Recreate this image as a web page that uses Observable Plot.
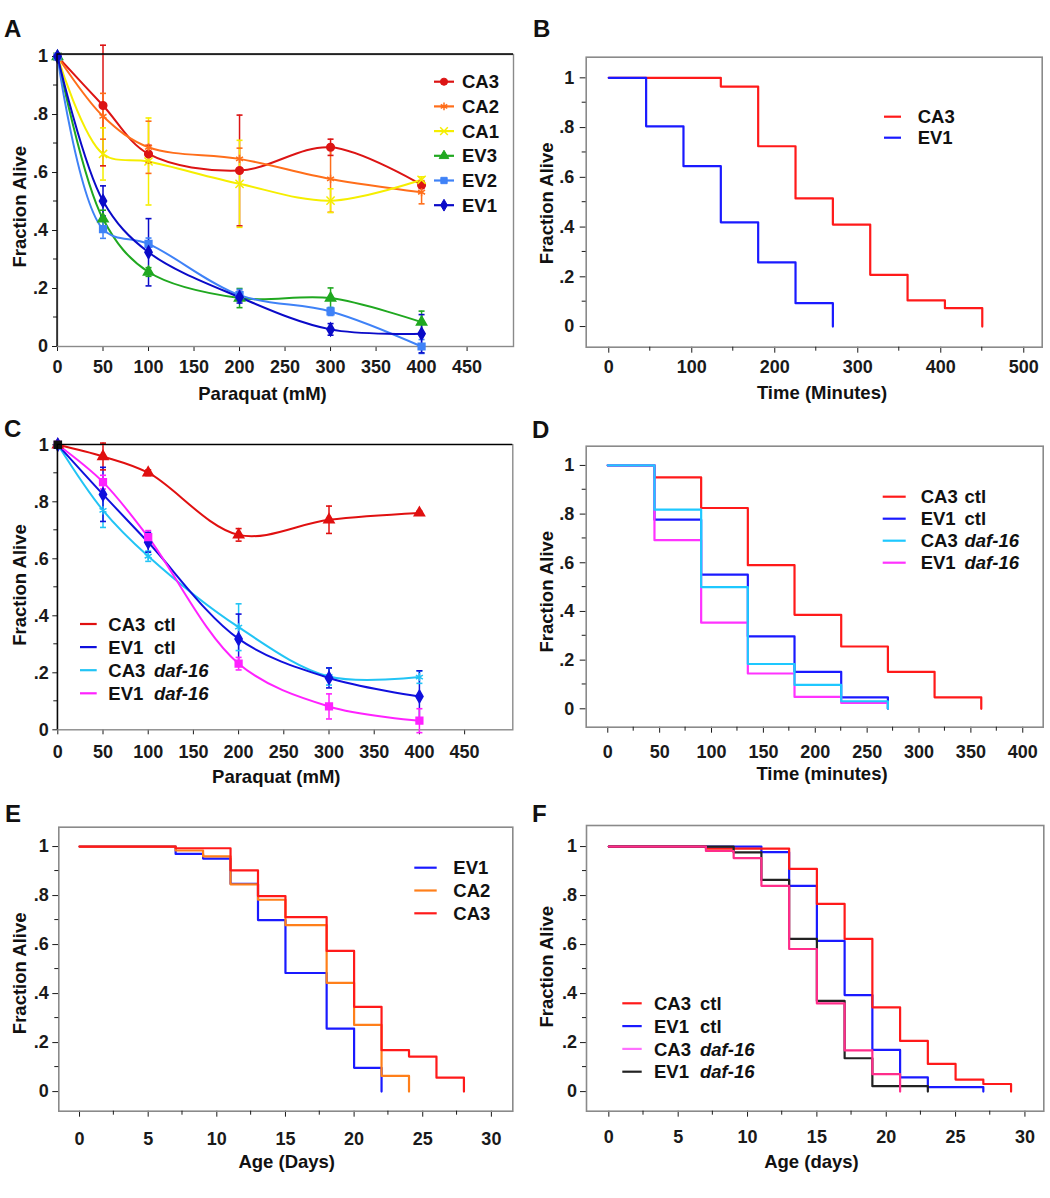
<!DOCTYPE html>
<html><head><meta charset="utf-8">
<script src="https://cdn.jsdelivr.net/npm/d3@7"></script>
<script src="https://cdn.jsdelivr.net/npm/@observablehq/plot@0.6"></script>
<style>
body{margin:0;background:#fff;}
#fig{position:relative;width:1050px;height:1198px;background:#fff;}
.pnl{position:absolute;}
</style></head><body><div id="fig"></div>
<script>
const FONT = '"Liberation Sans", Arial, Helvetica, sans-serif';

// ---------------- Panel A : paraquat dose response ----------------
const doseA = [0, 50, 100, 200, 300, 400];
const namesA = ["CA3", "CA2", "CA1", "EV3", "EV2", "EV1"];
const colorsA = ["#dc1414", "#ff6e1a", "#f5ee00", "#20a820", "#3f82f7", "#0a0ac8"];
const symbolsA = ["circle", "asterisk", "times", "triangle", "square", "diamond"];
const aCA3 = [1, 0.831, 0.664, 0.607, 0.687, 0.557];
const aCA3err = [0, 0.208, 0.03, 0.191, 0.028, 0.012];
const aCA2 = [1, 0.794, 0.687, 0.647, 0.578, 0.532];
const aCA2err = [0, 0.079, 0.09, 0.037, 0.115, 0.04];
const aCA1 = [1, 0.664, 0.638, 0.561, 0.503, 0.575];
const aCA1err = [0, 0.09, 0.15, 0.15, 0.041, 0.01];
const aEV3 = [1, 0.44, 0.257, 0.167, 0.167, 0.084];
const aEV3err = [0, 0.03, 0.015, 0.033, 0.035, 0.038];
const aEV2 = [1, 0.405, 0.354, 0.177, 0.121, 0.0];
const aEV2err = [0, 0.032, 0.02, 0.02, 0.014, 0.024];
const aEV1 = [1, 0.502, 0.325, 0.17, 0.059, 0.044];
const aEV1err = [0, 0.052, 0.116, 0.02, 0.02, 0.066];

// ---------------- Panel B : survival in paraquat (minutes) ----------------
const namesB = ["CA3", "EV1"];
const colorsB = ["#ff1a1a", "#1a1aff"];
const tB_CA3 = [0, 135, 180, 225, 270, 315, 360, 405, 450];
const vB_CA3 = [1, 0.965, 0.725, 0.515, 0.41, 0.208, 0.105, 0.074, 0];
const tB_EV1 = [0, 45, 90, 135, 180, 225, 270];
const vB_EV1 = [1, 0.805, 0.645, 0.419, 0.258, 0.094, 0];

// ---------------- Panel C : paraquat dose response, daf-16 ----------------
const doseC = [0, 50, 100, 200, 300, 400];
const namesC = ["CA3 ctl", "EV1 ctl", "CA3 daf-16", "EV1 daf-16"];
const colorsC = ["#e01010", "#1010dd", "#22c4f5", "#ff22ff"];
const symbolsC = ["triangle", "diamond", "asterisk", "square"];
const cCA3ctl = [1, 0.959, 0.902, 0.684, 0.737, 0.761];
const cCA3ctlErr = [0, 0.047, 0.01, 0.022, 0.048, 0.006];
const cEV1ctl = [1, 0.826, 0.658, 0.319, 0.182, 0.117];
const cEV1ctlErr = [0, 0.095, 0.035, 0.087, 0.035, 0.09];
const cCA3daf = [1, 0.77, 0.609, 0.36, 0.187, 0.185];
const cCA3dafErr = [0, 0.06, 0.018, 0.082, 0.03, 0.022];
const cEV1daf = [1, 0.869, 0.676, 0.232, 0.082, 0.032];
const cEV1dafErr = [0, 0.024, 0.023, 0.022, 0.044, 0.042];

// ---------------- Panel D : survival in paraquat, daf-16 ----------------
const namesD = ["CA3 ctl", "EV1 ctl", "CA3 daf-16", "EV1 daf-16"];
const colorsD = ["#ff1a1a", "#1a1aff", "#1ec8ff", "#ff33ff"];
const tD_CA3ctl = [0, 45, 90, 135, 180, 225, 270, 315, 360];
const vD_CA3ctl = [1, 0.951, 0.825, 0.59, 0.386, 0.256, 0.152, 0.047, 0];
const tD_EV1ctl = [0, 45, 90, 135, 180, 225, 270];
const vD_EV1ctl = [1, 0.777, 0.551, 0.298, 0.152, 0.047, 0];
const tD_CA3daf = [0, 45, 90, 135, 180, 225, 270];
const vD_CA3daf = [1, 0.818, 0.5, 0.184, 0.098, 0.031, 0];
const tD_EV1daf = [0, 45, 90, 135, 180, 225, 270];
const vD_EV1daf = [1, 0.693, 0.354, 0.145, 0.049, 0.024, 0];

// ---------------- Panel E : lifespan ----------------
const namesE = ["EV1", "CA2", "CA3"];
const colorsE = ["#1a1aff", "#ff7f1a", "#ff1a1a"];
const tE_EV1 = [0, 7, 9, 11, 13, 15, 18, 20, 22];
const vE_EV1 = [1, 0.97, 0.951, 0.848, 0.70, 0.484, 0.257, 0.097, 0];
const tE_CA2 = [0, 7, 9, 11, 13, 15, 18, 20, 22, 24];
const vE_CA2 = [1, 0.984, 0.96, 0.846, 0.783, 0.679, 0.444, 0.272, 0.064, 0];
const tE_CA3 = [0, 7, 11, 13, 15, 18, 20, 22, 24, 26, 28];
const vE_CA3 = [1, 0.993, 0.903, 0.798, 0.712, 0.574, 0.346, 0.169, 0.143, 0.057, 0];

// ---------------- Panel F : lifespan, daf-16 ----------------
const namesF = ["CA3 ctl", "EV1 ctl", "CA3 daf-16", "EV1 daf-16"];
const colorsF = ["#ff1a1a", "#1a1aff", "#ff2d8a", "#222222"];
const legendColorsF = ["#ff1a1a", "#1a1aff", "#ff70ff", "#222222"];
const tF_CA3ctl = [0, 7, 13, 15, 17, 19, 21, 23, 25, 27, 29];
const vF_CA3ctl = [1, 0.992, 0.909, 0.766, 0.623, 0.344, 0.207, 0.113, 0.049, 0.031, 0];
const tF_EV1ctl = [0, 11, 13, 15, 17, 19, 21, 23, 27];
const vF_EV1ctl = [1, 0.977, 0.84, 0.615, 0.394, 0.17, 0.058, 0.018, 0];
const tF_CA3daf = [0, 7, 9, 11, 13, 15, 17, 19, 21];
const vF_CA3daf = [1, 0.982, 0.953, 0.84, 0.582, 0.36, 0.168, 0.071, 0];
const tF_EV1daf = [0, 9, 11, 13, 15, 17, 19, 23];
const vF_EV1daf = [1, 0.976, 0.864, 0.623, 0.37, 0.136, 0.022, 0];

// ---------------- axis tick values ----------------
const yTicks = [0, 0.2, 0.4, 0.6, 0.8, 1];
const yMinor = [0.1, 0.3, 0.5, 0.7, 0.9];
const xTicksParaquat = [0, 50, 100, 150, 200, 250, 300, 350, 400, 450];
const xTicksB = [0, 100, 200, 300, 400, 500];
const xMinorB = [50, 150, 250, 350, 450];
const xTicksD = [0, 50, 100, 150, 200, 250, 300, 350, 400];
const xMinorD = [25, 75, 125, 175, 225, 275, 325, 375];
const xTicksAge = [0, 5, 10, 15, 20, 25, 30];
const xMinorAge = [2.5, 7.5, 12.5, 17.5, 22.5, 27.5];

// ---------------- helpers ----------------
const capSymbol = { draw(ctx, size) { const r = Math.sqrt(size / Math.PI); ctx.moveTo(-r, 0); ctx.lineTo(r, 0); } };
const fmtY = d => d === 0 ? "0" : d === 1 ? "1" : d.toFixed(1).replace(/^0/, "");
const tidyCurves = (names, xs, vals, errs) =>
  names.flatMap((s, i) => xs.map((x, j) => ({series: s, x, y: vals[i][j], err: errs[i][j]})));
const tidySteps = (names, ts, vs) =>
  names.flatMap((s, i) => ts[i].map((t, j) => ({series: s, t, v: vs[i][j]})));

const fig = document.getElementById("fig");

function panel(cfg) {
  const plot = Plot.plot({
    width: cfg.width, height: cfg.height,
    marginLeft: cfg.ml, marginRight: cfg.mr, marginTop: cfg.mt, marginBottom: cfg.mb,
    style: {background: "transparent", overflow: "visible", fontFamily: FONT, fontSize: "18px", fontWeight: "bold", color: "#1a1a1a"},
    x: {domain: cfg.xDomain, ticks: cfg.xTicks, tickSize: cfg.xts, tickPadding: cfg.xtp, label: null, tickFormat: d => String(d)},
    y: {domain: cfg.yDomain, ticks: yTicks, tickSize: cfg.yts, tickPadding: cfg.ytp, label: null, tickFormat: fmtY},
    color: {domain: cfg.names, range: cfg.colors},
    symbol: cfg.symbols ? {domain: cfg.names, range: cfg.symbols} : undefined,
    marks: cfg.marks
  });
  const svg = d3.select(plot);
  const sx = plot.scale("x"), sy = plot.scale("y");
  const X = d3.scaleLinear(sx.domain, sx.range), Y = d3.scaleLinear(sy.domain, sy.range);
  const bottom = cfg.height - cfg.mb, left = cfg.ml, right = cfg.width - cfg.mr, top = cfg.mt;
  const g = svg.append("g").attr("stroke", "#1a1a1a").attr("stroke-width", 1);
  yMinor.forEach(v => g.append("line").attr("x1", left - 4).attr("x2", left).attr("y1", Y(v)).attr("y2", Y(v)));
  (cfg.xMinor || []).forEach(v => g.append("line").attr("x1", X(v)).attr("x2", X(v)).attr("y1", bottom).attr("y2", bottom + 4));
  if (cfg.blackLeftTop) {
    g.append("path").attr("fill", "none").attr("stroke", "#000").attr("stroke-width", 1.3)
      .attr("d", `M${left},${bottom}V${top}H${right}`);
  }
  const t = svg.append("g").attr("fill", "#111").attr("text-anchor", "start")
    .style("font-family", FONT).style("font-weight", "bold");
  t.append("text").attr("x", cfg.letter[0]).attr("y", cfg.letter[1]).attr("text-anchor", "start")
    .style("font-size", "24px").text(cfg.letterText);
  t.append("text").attr("transform", `translate(${cfg.yTitle[0]},${cfg.yTitle[1]}) rotate(-90)`)
    .attr("text-anchor", "middle").style("font-size", "18.5px").text("Fraction Alive");
  t.append("text").attr("x", cfg.xTitle[0]).attr("y", cfg.xTitle[1])
    .attr("text-anchor", "middle").style("font-size", "18.5px").text(cfg.xTitleText);
  // legend
  const L = cfg.legend;
  const lg = svg.append("g").attr("text-anchor", "start")
    .style("font-family", FONT).style("font-weight", "bold").style("font-size", "18.5px");
  const map = {circle: d3.symbolCircle, asterisk: d3.symbolAsterisk, times: d3.symbolTimes,
               triangle: d3.symbolTriangle, square: d3.symbolSquare, diamond: d3.symbolDiamond};
  L.labels.forEach((lab, i) => {
    const cy = L.y0 + i * L.dy;
    const col = L.colors[i];
    lg.append("line").attr("x1", L.x1).attr("x2", L.x2).attr("y1", cy).attr("y2", cy)
      .attr("stroke", col).attr("stroke-width", 2.2);
    if (L.symbols) {
      const name = L.symbols[i];
      const stroked = name === "asterisk" || name === "times";
      lg.append("path").attr("transform", `translate(${(L.x1 + L.x2) / 2},${cy})`)
        .attr("d", d3.symbol(map[name], 40)())
        .attr("fill", stroked ? "none" : col).attr("stroke", col).attr("stroke-width", stroked ? 1.5 : 1);
    }
    const parts = lab.split(" ");
    const tx = lg.append("text").attr("x", L.tx).attr("y", cy + 6.6).attr("fill", "#111").attr("text-anchor", "start");
    tx.append("tspan").text(parts[0]);
    if (parts.length > 1) {
      tx.append("tspan").attr("x", L.tx2).style("font-style", parts[1].startsWith("daf") ? "italic" : "normal").text(parts[1]);
    }
  });
  const div = document.createElement("div");
  div.className = "pnl";
  div.style.left = cfg.left + "px";
  div.style.top = cfg.top + "px";
  div.style.width = cfg.width + "px";
  div.appendChild(plot);
  fig.appendChild(div);
}

function curveMarks(rows, zeroHighlight) {
  const withErr = rows.filter(d => d.err > 0);
  const m = [
    Plot.frame({stroke: "#8a8a8a", strokeWidth: 1.4}),
    Plot.line(rows, {x: "x", y: "y", z: "series", stroke: "series", curve: "catmull-rom", strokeWidth: 2}),
    Plot.ruleX(withErr, {x: "x", y1: d => d.y - d.err, y2: d => d.y + d.err, stroke: "series", strokeWidth: 1.5}),
    Plot.dot(withErr, {x: "x", y: d => d.y + d.err, symbol: capSymbol, r: 3, stroke: "series", strokeWidth: 1.6}),
    Plot.dot(withErr, {x: "x", y: d => d.y - d.err, symbol: capSymbol, r: 3, stroke: "series", strokeWidth: 1.6}),
    Plot.dot(rows, {x: "x", y: "y", symbol: "series", fill: "series", stroke: "series", r: 3.8, strokeWidth: 1.5})
  ];
  if (zeroHighlight) m.push(Plot.dot(rows.filter(zeroHighlight), {x: "x", y: "y", symbol: "square", fill: "#111", stroke: "#111", r: 4}));
  return m;
}
function stepMarks(rows) {
  return [
    Plot.frame({stroke: "#8a8a8a", strokeWidth: 1.6}),
    Plot.line(rows, {x: "t", y: "v", z: "series", stroke: "series", curve: "step-after", strokeWidth: 2.2})
  ];
}

// ---------- A ----------
const rowsA = tidyCurves(namesA, doseA, [aCA3, aCA2, aCA1, aEV3, aEV2, aEV1], [aCA3err, aCA2err, aCA1err, aEV3err, aEV2err, aEV1err]);
panel({
  left: 0, top: 0, width: 525, height: 400, ml: 57, mr: 12, mt: 54, mb: 54,
  xDomain: [0, 501], yDomain: [0, 1.007], xTicks: xTicksParaquat, xts: 5, xtp: 9, yts: 5, ytp: 4.5,
  names: namesA, colors: colorsA, symbols: symbolsA, blackLeftTop: true,
  marks: curveMarks(rowsA),
  letter: [4, 37], letterText: "A", yTitle: [26, 206.7], xTitle: [262.5, 400], xTitleText: "Paraquat (mM)",
  legend: {labels: namesA, colors: colorsA, symbols: symbolsA, x1: 434, x2: 454, tx: 462, y0: 81.7, dy: 24.7}
});

// ---------- B ----------
const rowsB = tidySteps(namesB, [tB_CA3, tB_EV1], [vB_CA3, vB_EV1]);
panel({
  left: 525, top: 0, width: 525, height: 400, ml: 60.7, mr: 8.3, mt: 56.7, mb: 53.3,
  xDomain: [-27.2, 522.2], yDomain: [-0.083, 1.083], xTicks: xTicksB, xMinor: xMinorB, xts: 6, xtp: 7, yts: 6, ytp: 6,
  names: namesB, colors: colorsB,
  marks: stepMarks(rowsB),
  letter: [8, 37], letterText: "B", yTitle: [28.3, 203.3], xTitle: [297, 398.5], xTitleText: "Time (Minutes)",
  legend: {labels: namesB, colors: colorsB, x1: 359, x2: 376, tx: 392.7, y0: 116.7, dy: 21}
});

// ---------- C ----------
const drawOrderC = ["CA3 ctl", "CA3 daf-16", "EV1 ctl", "EV1 daf-16"];
const rowsC0 = tidyCurves(namesC, doseC, [cCA3ctl, cEV1ctl, cCA3daf, cEV1daf], [cCA3ctlErr, cEV1ctlErr, cCA3dafErr, cEV1dafErr]);
const rowsC = drawOrderC.flatMap(s => rowsC0.filter(d => d.series === s));
panel({
  left: 0, top: 400, width: 525, height: 400, ml: 57.3, mr: 12.7, mt: 44.3, mb: 70.7,
  xDomain: [0, 503.3], yDomain: [0, 1], xTicks: xTicksParaquat, xts: 5, xtp: 10, yts: 5, ytp: 4,
  names: namesC, colors: colorsC, symbols: symbolsC, blackLeftTop: true,
  marks: curveMarks(rowsC, d => d.x === 0 && d.series === "EV1 daf-16"),
  letter: [4, 36.7], letterText: "C", yTitle: [26, 185], xTitle: [276.3, 383.3], xTitleText: "Paraquat (mM)",
  legend: {labels: namesC, colors: colorsC, x1: 80, x2: 96.7, tx: 108.3, tx2: 154, y0: 224, dy: 23.1}
});

// ---------- D ----------
const rowsD = tidySteps(["CA3 ctl", "EV1 ctl", "EV1 daf-16", "CA3 daf-16"],
  [tD_CA3ctl, tD_EV1ctl, tD_EV1daf, tD_CA3daf], [vD_CA3ctl, vD_EV1ctl, vD_EV1daf, vD_CA3daf]);
panel({
  left: 525, top: 400, width: 525, height: 400, ml: 60.7, mr: 7.3, mt: 45.7, mb: 73.3,
  xDomain: [-20.8, 419.7], yDomain: [-0.0756, 1.079], xTicks: xTicksD, xMinor: xMinorD, xts: 6, xtp: 12, yts: 6, ytp: 6,
  names: namesD, colors: colorsD,
  marks: stepMarks(rowsD),
  letter: [7, 38], letterText: "D", yTitle: [28.3, 191.7], xTitle: [297, 380], xTitleText: "Time (minutes)",
  legend: {labels: namesD, colors: colorsD, x1: 357.7, x2: 380.7, tx: 395.7, tx2: 439.5, y0: 96.7, dy: 22}
});

// ---------- E ----------
const rowsE = tidySteps(namesE, [tE_EV1, tE_CA2, tE_CA3], [vE_EV1, vE_CA2, vE_CA3]);
panel({
  left: 0, top: 800, width: 525, height: 398, ml: 58.3, mr: 12.7, mt: 26.7, mb: 87.3,
  xDomain: [-1.51, 31.56], yDomain: [-0.08, 1.079], xTicks: xTicksAge, xMinor: xMinorAge, xts: 6, xtp: 15, yts: 6, ytp: 4,
  names: namesE, colors: colorsE,
  marks: stepMarks(rowsE),
  letter: [5, 21.7], letterText: "E", yTitle: [26, 173.3], xTitle: [286.7, 368.3], xTitleText: "Age (Days)",
  legend: {labels: namesE, colors: colorsE, x1: 414.3, x2: 436.7, tx: 453.3, y0: 67.7, dy: 22.8}
});

// ---------- F ----------
const rowsF = tidySteps(["EV1 ctl", "CA3 ctl", "EV1 daf-16", "CA3 daf-16"],
  [tF_EV1ctl, tF_CA3ctl, tF_EV1daf, tF_CA3daf], [vF_EV1ctl, vF_CA3ctl, vF_EV1daf, vF_CA3daf]);
panel({
  left: 525, top: 800, width: 525, height: 398, ml: 61, mr: 6.7, mt: 25, mb: 87.3,
  xDomain: [-1.61, 31.36], yDomain: [-0.08, 1.086], xTicks: xTicksAge, xMinor: xMinorAge, xts: 6, xtp: 13, yts: 6, ytp: 3.5,
  names: namesF, colors: colorsF,
  marks: stepMarks(rowsF),
  letter: [7, 21.7], letterText: "F", yTitle: [28.3, 166.7], xTitle: [286.5, 368.3], xTitleText: "Age (days)",
  legend: {labels: namesF, colors: legendColorsF, x1: 97.3, x2: 116.7, tx: 129, tx2: 175, y0: 203.3, dy: 22.8}
});
</script></body></html>
